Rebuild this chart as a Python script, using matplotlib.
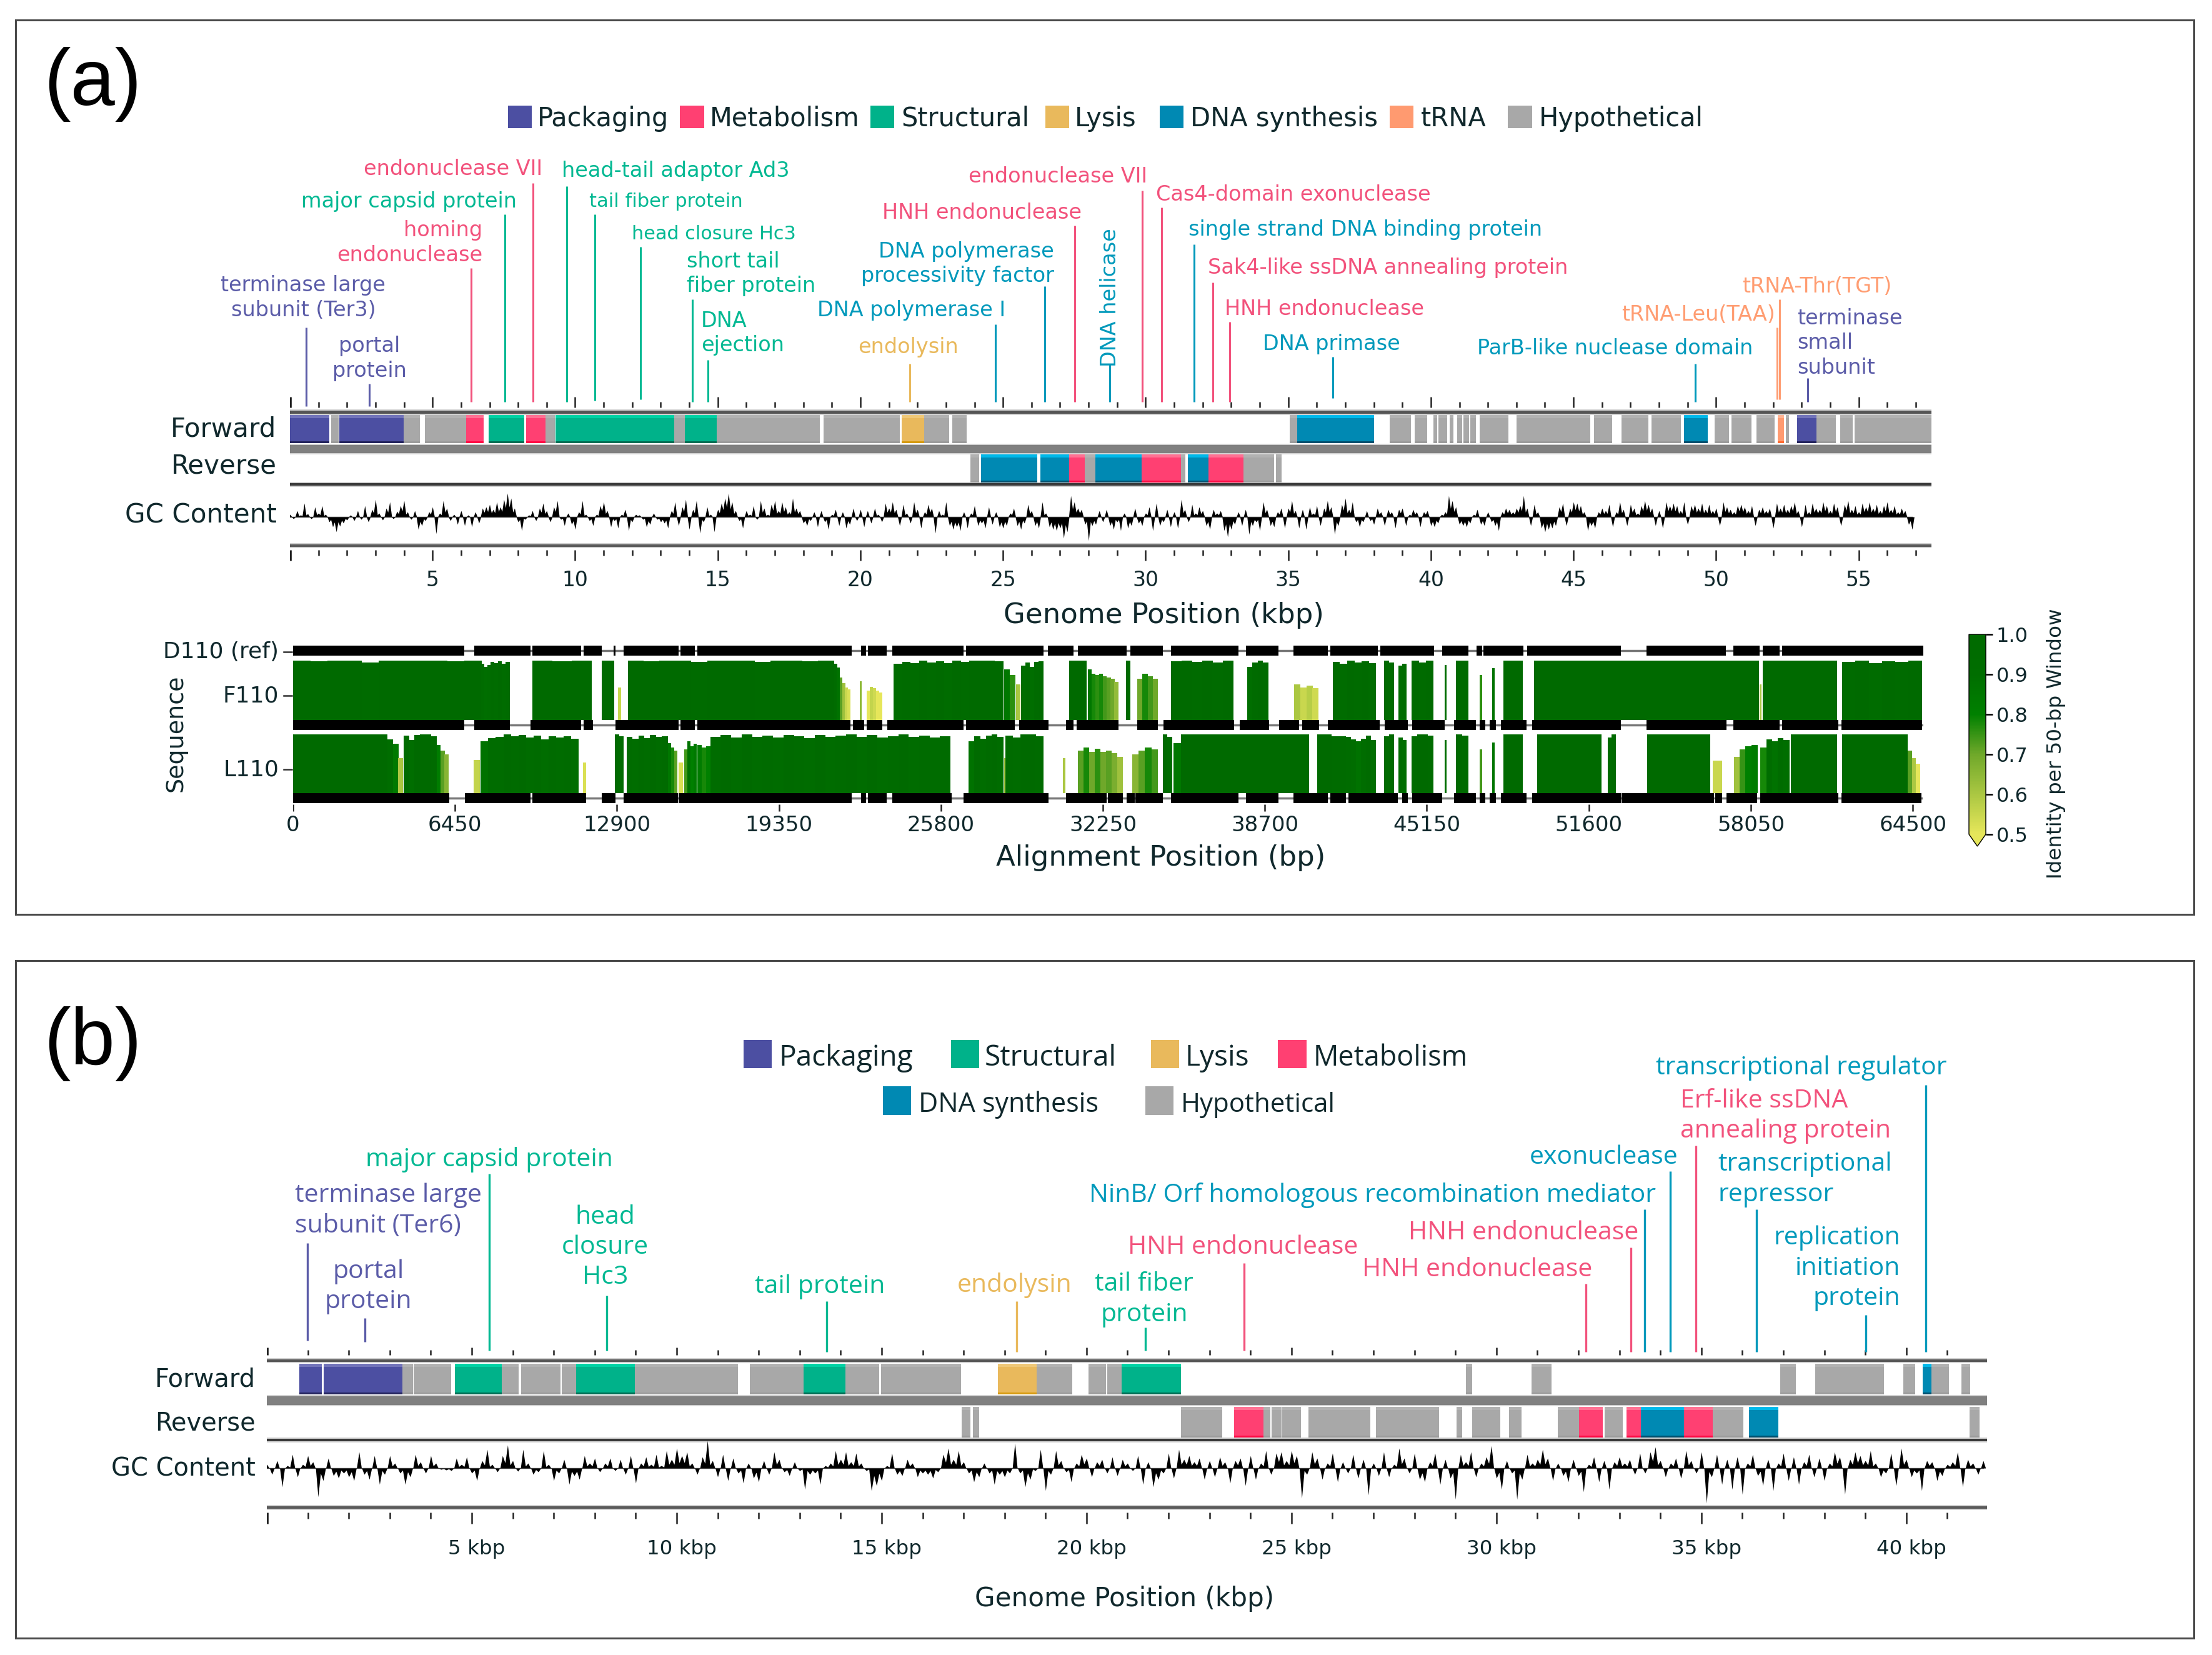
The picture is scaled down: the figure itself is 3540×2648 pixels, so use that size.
#!/usr/bin/env python3
"""
plot.py
Phage genome maps (a) and (b) with the identity tracks under map (a).
"""

import numpy as np
import matplotlib
matplotlib.use("Agg")
import matplotlib.pyplot as plt
from matplotlib.colors import LinearSegmentedColormap, Normalize
from matplotlib.cm import ScalarMappable
from matplotlib.patches import Rectangle


# -------------------------------------------------------------------
# COLOURS
# -------------------------------------------------------------------

FILL = {"pack": "#4c4fa2", "meta": "#ff4072", "stru": "#00b28a", "lysi": "#e9b95c",
        "dna": "#0089b3", "trna": "#ff9a70", "hypo": "#a8a8a8"}
TOP = {"pack": "#7274ba", "meta": "#ff7193", "stru": "#00d2a4", "lysi": "#efc878",
       "dna": "#00b9ea", "trna": "#ffb596", "hypo": "#b2b2b2"}
BOT = {"pack": "#24245e", "meta": "#ff0a45", "stru": "#006e54", "lysi": "#d69a10",
       "dna": "#00506f", "trna": "#ff6a30", "hypo": "#9c9c9c"}
TEXT = {"pack": "#5b5ca8", "meta": "#f2527c", "stru": "#00b892", "lysi": "#e9b95c",
        "dna": "#0099bb", "trna": "#ff9d72", "hypo": "#a8a8a8"}
DARK = "#10282c"


# -------------------------------------------------------------------
# DATA - GENES, PANEL A (kbp)
# -------------------------------------------------------------------

A_FWD_START = [0, 1.45, 1.74, 3.98, 4.74, 6.18, 6.96, 8.28, 8.97, 9.31, 13.48, 13.84, 14.97, 18.70, 21.45, 22.24, 23.23,
               35.06, 35.31, 38.56, 39.44, 40.10, 40.27, 40.67, 40.92, 41.14, 41.39, 41.71, 43.01, 43.30, 45.73,
               46.68, 47.73, 48.87, 49.94, 50.53, 51.42, 52.17, 52.44, 52.83, 53.51, 54.36, 54.85]
A_FWD_END = [1.38, 1.70, 3.98, 4.55, 6.18, 6.79, 8.22, 8.97, 9.29, 13.48, 13.84, 14.97, 18.57, 21.38, 22.24, 23.12, 23.73,
             35.31, 38.01, 39.31, 39.88, 40.22, 40.58, 40.80, 41.09, 41.33, 41.58, 42.71, 43.30, 45.58, 46.36,
             47.62, 48.77, 49.70, 50.45, 51.23, 52.06, 52.38, 52.55, 53.51, 54.19, 54.78, 57.54]
A_FWD_CAT = ["pack", "hypo", "pack", "hypo", "hypo", "meta", "stru", "meta", "hypo", "stru", "hypo", "stru", "hypo", "hypo", "lysi", "hypo", "hypo",
             "hypo", "dna", "hypo", "hypo", "hypo", "hypo", "hypo", "hypo", "hypo", "hypo", "hypo", "hypo", "hypo", "hypo",
             "hypo", "hypo", "dna", "hypo", "hypo", "hypo", "trna", "hypo", "pack", "hypo", "hypo", "hypo"]

A_REV_START = [23.86, 24.23, 26.31, 27.32, 27.86, 28.24, 29.85, 31.23, 31.49, 32.21, 33.42, 34.57]
A_REV_END = [24.17, 26.20, 27.32, 27.86, 28.24, 29.85, 31.23, 31.40, 32.21, 33.42, 34.51, 34.76]
A_REV_CAT = ["hypo", "dna", "dna", "meta", "hypo", "dna", "meta", "hypo", "dna", "meta", "hypo", "hypo"]

# -------------------------------------------------------------------
# DATA - GENES, PANEL B (kbp)
# -------------------------------------------------------------------

B_FWD_START = [0.79, 1.38, 3.31, 3.59, 4.59, 5.73, 6.20, 7.20, 7.54, 8.98, 11.79, 13.10, 14.11, 14.99, 17.84, 18.78, 20.04, 20.50, 20.85,
               29.26, 30.85, 36.93, 37.78, 38.12, 38.60, 39.02, 39.92, 40.40, 40.61, 41.35]
B_FWD_END = [1.34, 3.31, 3.56, 4.50, 5.73, 6.14, 7.16, 7.54, 8.98, 11.49, 13.10, 14.11, 14.94, 16.94, 18.78, 19.65, 20.47, 20.85, 22.31,
             29.41, 31.35, 37.31, 38.12, 38.60, 39.02, 39.46, 40.22, 40.61, 41.04, 41.56]
B_FWD_CAT = ["pack", "pack", "hypo", "hypo", "stru", "hypo", "hypo", "hypo", "stru", "hypo", "hypo", "stru", "hypo", "hypo", "lysi", "hypo", "hypo", "hypo", "stru",
             "hypo", "hypo", "hypo", "hypo", "hypo", "hypo", "hypo", "hypo", "dna", "hypo", "hypo"]

B_REV_START = [16.95, 17.23, 22.31, 22.77, 23.60, 24.32, 24.51, 24.77, 25.42, 27.06, 27.50, 28.07, 29.02, 29.41, 30.30,
               31.49, 31.73, 32.02, 32.64, 33.18, 33.53, 34.58, 35.28, 36.16, 41.54]
B_REV_END = [17.16, 17.38, 22.77, 23.31, 24.32, 24.49, 24.76, 25.23, 26.93, 27.50, 28.07, 28.60, 29.17, 30.09, 30.61,
             31.73, 32.02, 32.59, 33.08, 33.53, 34.58, 35.28, 36.02, 36.88, 41.78]
B_REV_CAT = ["hypo", "hypo", "hypo", "hypo", "meta", "hypo", "hypo", "hypo", "hypo", "hypo", "hypo", "hypo", "hypo", "hypo", "hypo",
             "hypo", "hypo", "meta", "hypo", "meta", "dna", "meta", "hypo", "dna", "hypo"]


# -------------------------------------------------------------------
# DATA - GC CONTENT (deviation, one block per 5 kbp)
# -------------------------------------------------------------------

GC_A = [
    [4, -3, 10, 3, 22, 5, -3, 16, 6, 18, 4, -8, -16, -24, -15, -10, -5, 3, -6, 10, -4, 18, -8, 12, 28, 6, -5, 14, 24, -3, 9, 18, 26, 8, -4, 10, -20, -14, -6, 8],
    [16, -27, 6, 26, 14, -6, 4, -12, 10, -14, 3, -16, 8, -10, 14, 16, 20, 12, 24, 16, 28, 38, 30, 14, -8, -22, -4, 3, 10, -6, 14, 22, 10, -8, 16, 26, -4, -14, 6, -12],
    [-20, 8, 26, 4, -6, -14, 4, 18, 24, 10, -16, -6, -18, 4, 12, -22, -8, 4, 3, -4, -16, -12, 6, -4, -8, -10, -18, 10, 24, -14, 16, 28, -20, 12, 26, -26, -8, 16, 4, -24],
    [12, 22, 30, 38, 24, 10, -6, -18, 10, 4, 18, -4, 26, 14, 4, 20, 26, 10, 24, 16, 8, 30, 14, 10, -10, -14, -6, 8, -16, 10, -8, -20, 4, 12, -14, 8, -18, -12, 14, -6],
    [12, -16, 10, -10, 14, 4, -8, 22, 14, 24, 12, -14, 20, 6, -10, 24, 12, -18, 8, 20, 14, -26, 10, 4, 24, -14, -20, -16, -22, 8, -18, 6, 18, -14, -10, -18, 16, -12, 8, -16],
    [-18, -14, 6, 14, -14, -20, -10, 20, 10, -14, -18, 24, 6, -16, -20, -22, -18, -34, -24, 34, 24, 14, 12, -12, -38, -14, -12, 10, -8, 12, -14, -20, -8, -22, 6, -18, -14, 14, -10, -14],
    [6, 16, -22, 22, -14, -8, 12, -16, 8, -18, 28, 12, -8, 20, 6, 16, 10, -14, -20, 12, 6, 10, -22, -32, -20, -12, 8, -14, 12, -28, -14, -8, -22, 24, 12, -14, -16, 8, 14, -18],
    [14, 26, 10, -18, 12, -20, 16, 6, 18, -14, 14, 26, 16, -28, -14, 20, 30, 12, 24, -8, -16, -8, 10, -6, -12, 14, 8, -14, 12, 8, -18, 12, 14, -14, 4, 12, 8, -16, 8, 10],
    [-14, -16, -10, 4, 8, 34, 26, 16, -12, -14, -16, -10, 4, 12, -12, -14, 8, -8, -14, -22, 8, 14, 12, 8, 14, 18, 34, 14, -14, 20, 8, -18, -24, -20, -18, -14, 16, 22, -14, 14],
    [24, 22, 18, 8, -22, -14, -18, 8, 14, 10, 20, -16, 8, 24, 12, -14, 20, 14, 6, 18, 26, 20, 14, -14, 10, -18, 24, 18, 22, 18, 10, 24, -12, 18, 20, 14, 22, 12, 20, 10],
    [14, -14, 24, 16, 12, 8, 18, 20, 16, 10, 18, -14, 12, 16, 10, 14, -18, 22, 14, 20, 12, 18, 24, 10, -16, 20, 8, 22, 14, 12, 24, 18, 10, 22, 16, -14, 20, 26, 12, 18],
    [8, 22, 16, 24, 14, 20, 10, 18, 24, 12, 18, 8, 14, 10, -12, -20],
]

GC_B = [
    [6, -10, 12, -30, 4, 22, -14, 6, 20, 10, -46, -20, 16, -12, -16, -8, -14, -20, 26, -10, -18, 20, -26, -10, 20, 8, -8, -26, -14, 22, 10, -8, 20, 8, -2, -3, -4, 16, 6, 18],
    [-8, -20, 12, 30, 6, -6, 20, 37, 12, -5, 30, 8, -10, -6, 28, 6, -20, -8, 14, -26, -12, -18, 20, 8, 16, -6, 8, 16, -4, 14, -10, 20, -24, 8, 18, 6, 22, 4, 28, 14],
    [32, 20, 26, 8, -10, 18, 44, 12, -14, 22, -20, 16, -8, -24, 8, -16, -22, 12, -10, 26, 14, -6, -12, 10, -4, -34, -10, -8, -26, 4, 8, 28, 14, 26, 10, 24, 8, -4, -36, -28],
    [-20, 4, 24, -10, -12, 14, 8, -14, -8, -10, -16, -6, 22, 32, 14, 28, 10, -8, -22, -14, 8, -8, -26, -10, -14, -8, 40, -8, -30, -18, -4, 30, -36, -10, 28, 12, -6, -22, 8, 22],
    [16, -14, 10, 14, -8, 18, -12, 14, 8, -4, 20, -26, 10, -30, -18, -8, 24, -16, 30, 14, 20, 10, 16, -18, 12, -14, 18, 10, -24, 12, 16, -28, 20, -18, 8, 28, -10, 24, 26, 12],
    [28, 20, -48, -10, 26, 16, -18, 8, 24, -22, 10, -8, 22, -16, 14, -43, 8, -12, 26, -14, 6, 32, 16, -8, 24, -18, -22, 10, 24, -26, 14, -16, -50, 22, 10, 26, -14, 8, 18, 36],
    [-16, -34, 12, -8, -50, -18, 22, 8, 14, 30, 16, -20, 8, -12, -22, 14, -12, -38, 6, 18, -22, 12, -34, 10, 18, 8, 14, -10, 24, -8, 26, 34, 12, -14, 8, 16, -16, 28, 12, -8],
    [26, -56, -14, 22, -26, 14, -34, 18, -42, 8, 22, -12, -28, 14, -36, 8, 24, -20, 18, -26, 10, 22, -14, 16, -20, 8, 26, 18, -42, 14, 26, 20, 12, 28, 8, -14, -8, 24, -28, 32],
    [14, -14, -8, -36, 12, 10, -20, -12, 6, 10, 26, -30, 14, 8, -10, 12],
]


# -------------------------------------------------------------------
# DATA - ALIGNMENT BLOCKS AND IDENTITY (bp)
# -------------------------------------------------------------------

D110_START = [0, 7211, 9520, 11567, 12757, 13161, 15422, 16089, 22610, 22896, 23871, 26799, 30059, 31259, 33342, 34968, 37940, 39845, 41318, 43299, 45763, 47134, 47414, 49141, 53891, 57345, 58514, 59301]
D110_END = [6807, 9449, 11472, 12281, 12828, 15351, 15994, 22253, 22824, 23633, 26704, 29893, 31082, 33190, 34638, 37660, 39235, 41216, 43197, 45433, 46804, 47363, 48989, 52875, 57066, 58412, 59199, 64914]

F110_START = [0, 7211, 9449, 11567, 12828, 15422, 16089, 22301, 22848, 23657, 26799, 28917, 30773, 31209, 33622, 34663, 37686, 39260, 40175, 41216, 43477, 44569, 46245, 47261, 47643, 48100, 49345, 53891, 57345, 59301, 61663]
F110_END = [6807, 8639, 11472, 11948, 15351, 15994, 22205, 22753, 23467, 26704, 28750, 30083, 31082, 32860, 34434, 37482, 38879, 40073, 40861, 43274, 44391, 45864, 47109, 47465, 47897, 49116, 52875, 57091, 59199, 61536, 64864]

L110_START = [0, 6831, 9520, 12281, 13161, 15351, 22610, 22896, 23871, 26704, 30773, 32453, 33190, 33545, 34968, 37940, 39845, 41318, 42029, 44163, 44569, 46245, 47261, 47643, 48100, 49345, 52900, 56634, 57091, 58437, 61663]
L110_END = [6212, 9449, 11662, 12828, 15327, 22253, 22824, 23633, 26228, 30083, 32402, 33037, 33520, 34638, 37660, 39235, 41216, 41927, 43985, 44391, 45763, 47109, 47465, 47897, 49116, 52875, 56583, 56913, 58310, 61536, 64838]

F110_ID_START = [0, 7497, 7860, 9520, 12281, 12950, 13330, 21540, 21777, 22560, 22848, 23919, 28322, 28800, 28988, 30904, 31641, 33164, 33622, 34968, 37990, 39870, 41394, 43452, 44010, 44544, 45864, 46296, 47261, 47744, 48201, 49421, 58400, 58514, 61688]
F110_ID_END = [7497, 7860, 8616, 11900, 12781, 13050, 21540, 21777, 22182, 22630, 23467, 28274, 28750, 28960, 29869, 31590, 32860, 33342, 34434, 37431, 38829, 40835, 43122, 43833, 44340, 45408, 45940, 46804, 47338, 47846, 48963, 58360, 58470, 61485, 64864]
F110_ID = [
    [1.0, 0.99, 1.0, 1.0, 0.97, 1.0, 1.0, 1.0, 1.0, 0.99, 1.0], [0.95, 0.9, 0.93], [0.98, 0.96, 0.99, 0.95, 0.98],
    [1.0, 0.99, 1.0], [1.0], [0.55], [1.0, 0.99, 1.0, 1.0, 0.98, 1.0, 1.0, 1.0, 0.98, 1.0, 1.0, 0.99, 1.0], [0.95, 0.88], [0.72, 0.62, 0.55, 0.52],
    [0.65], [0.5, 0.56, 0.54, 0.5, 0.46], [0.95, 0.98, 0.96, 1.0, 0.97, 0.99, 0.96, 1.0, 0.98, 1.0, 1.0, 1.0, 0.99], [0.85, 0.76], [0.6], [0.92, 0.97, 0.9, 0.98, 0.99],
    [1.0], [0.85, 0.78, 0.76, 0.78, 0.74, 0.72, 0.7, 0.64], [1.0], [0.7, 0.78, 0.74, 0.7], [0.99, 1.0, 0.98, 1.0, 0.97, 1.0],
    [0.9, 0.97, 1.0, 0.97], [0.6, 0.55, 0.58, 0.54], [0.98, 0.95, 1.0, 0.97, 0.99, 0.96], [1.0, 0.97], [0.92, 0.95],
    [1.0, 0.97, 1.0], [0.93], [1.0], [0.76], [0.87], [1.0], [1.0], [0.6], [1.0], [0.98, 1.0, 0.96, 0.99, 0.98, 1.0],
]

L110_ID_START = [0, 3760, 4190, 4403, 5712, 7188, 7473, 11543, 12804, 13280, 14923, 15351, 15589, 16089, 16612, 26894, 28322, 28369, 30650, 31259, 33418, 34638, 35070, 35349, 40784, 41927, 43452, 44010, 44544, 45864, 46296, 47261, 47744, 48201, 49548, 52342, 53916, 56532, 57371, 58437, 59656, 61688, 64306]
L110_ID_END = [3760, 4190, 4380, 5712, 6188, 7426, 11376, 11662, 13161, 14923, 15303, 15518, 16065, 16612, 26180, 28274, 28369, 29869, 30760, 33037, 34434, 34994, 35349, 40454, 41927, 43122, 43833, 44340, 45408, 45940, 46804, 47338, 47846, 48963, 52088, 52672, 56430, 56913, 58310, 59580, 61485, 64281, 64788]
L110_ID = [
    [1.0], [0.92, 0.84], [0.6], [0.98, 0.9, 0.99, 1.0, 1.0, 0.97], [0.82, 0.72, 0.66], [0.56],
    [0.88, 0.94, 0.96, 1.0, 0.97, 0.99, 0.95, 0.98, 0.92, 0.97, 0.95, 0.97, 0.93], [0.52], [1.0, 0.97], [0.96, 0.93, 0.98, 0.94, 0.99, 0.96, 0.97],
    [0.85, 0.78, 0.72], [0.52], [0.74, 0.88, 0.8, 0.84], [0.82, 0.78, 0.8], [0.96, 0.99, 0.95, 1.0, 0.96, 0.98, 0.95, 0.99, 0.97, 0.94, 0.99, 0.96, 0.98, 1.0, 0.96, 0.99, 0.95, 0.97, 1.0, 0.96, 0.98, 0.95, 0.97],
    [0.88, 0.97, 0.93, 0.98, 1.0, 0.96], [0.6], [0.98, 0.95, 1.0, 1.0, 0.97], [0.6], [0.72, 0.78, 0.7, 0.76, 0.7, 0.72, 0.68, 0.62], [0.66, 0.72, 0.78, 0.74], [1.0, 0.96],
    [0.85], [1.0], [1.0, 0.97], [0.96, 0.92, 0.88, 0.93, 0.98, 0.9], [0.97, 1.0], [0.95, 0.9], [0.97, 1.0, 1.0, 0.98], [0.9], [1.0, 0.98], [0.74], [0.86], [1.0],
    [1.0], [0.95, 1.0], [1.0], [0.55], [0.62, 0.75, 0.8, 0.82], [0.78, 0.92, 0.88, 0.94, 0.9], [1.0], [1.0], [0.72, 0.6, 0.5],
]

CBAR_TICKS = [0.5, 0.6, 0.7, 0.8, 0.9, 1.0]
ALN_TICKS = [0, 6450, 12900, 19350, 25800, 32250, 38700, 45150, 51600, 58050, 64500]


# -------------------------------------------------------------------
# DATA - ANNOTATIONS
# -------------------------------------------------------------------

A_ANN_TEXT = ["terminase large\nsubunit (Ter3)", "portal\nprotein", "homing\nendonuclease", "major capsid protein", "endonuclease VII",
              "head-tail adaptor Ad3", "tail fiber protein", "head closure Hc3", "short tail\nfiber protein", "DNA\nejection",
              "endolysin", "DNA polymerase I", "DNA polymerase\nprocessivity factor", "HNH endonuclease", "DNA helicase",
              "endonuclease VII", "Cas4-domain exonuclease", "single strand DNA binding protein", "Sak4-like ssDNA annealing protein",
              "HNH endonuclease", "DNA primase", "ParB-like nuclease domain", "tRNA-Leu(TAA)", "tRNA-Thr(TGT)", "terminase\nsmall\nsubunit"]
A_ANN_POS = [0.57, 2.79, 6.35, 7.54, 8.53, 9.71, 10.70, 12.28, 14.11, 14.66, 21.73, 24.74, 26.47, 27.51, 28.75,
             29.88, 30.57, 31.71, 32.35, 32.95, 36.56, 49.26, 52.13, 52.23, 53.22]
A_ANN_CAT = ["pack", "pack", "meta", "stru", "meta", "stru", "stru", "stru", "stru", "stru", "lysi", "dna", "dna", "meta", "dna",
             "meta", "meta", "dna", "meta", "meta", "dna", "dna", "trna", "trna", "pack"]

B_ANN_TEXT = ["terminase large\nsubunit (Ter6)", "portal\nprotein", "major capsid protein", "head\nclosure\nHc3", "tail protein", "endolysin",
              "tail fiber\nprotein", "HNH endonuclease", "HNH endonuclease", "HNH endonuclease", "NinB/ Orf homologous recombination mediator",
              "exonuclease", "Erf-like ssDNA\nannealing protein", "transcriptional\nrepressor", "replication\ninitiation\nprotein", "transcriptional regulator"]
B_ANN_POS = [0.99, 2.40, 5.43, 8.29, 13.66, 18.30, 21.44, 23.85, 32.18, 33.28, 33.62, 34.24, 34.86, 36.34, 39.02, 40.47]
B_ANN_CAT = ["pack", "pack", "stru", "stru", "stru", "lysi", "stru", "meta", "meta", "meta", "dna", "dna", "meta", "dna", "dna", "dna"]

LEGEND_A = ["Packaging", "Metabolism", "Structural", "Lysis", "DNA synthesis", "tRNA", "Hypothetical"]
LEGEND_A_CAT = ["pack", "meta", "stru", "lysi", "dna", "trna", "hypo"]
LEGEND_B = ["Packaging", "Structural", "Lysis", "Metabolism", "DNA synthesis", "Hypothetical"]
LEGEND_B_CAT = ["pack", "stru", "lysi", "meta", "dna", "hypo"]


# -------------------------------------------------------------------
# LAYOUT (preview coordinates, 1568 wide, scaled by S to pixels)
# -------------------------------------------------------------------

W, H = 3540, 2648
S = 3540 / 1568

A_TEXT_X = [215, 262, 342, 290, 321, 479, 472, 506, 487, 497, 644, 646, 747, 696, 787, 750, 917, 968, 984, 939, 944, 1145, 1204, 1288, 1274]
A_TEXT_Y = [210, 253, 171, 142, 119, 120, 142, 165, 193, 235, 245, 219, 186, 150, 210, 124, 137, 162, 189, 218, 243, 246, 222, 202, 242]
A_TEXT_HA = ["center", "center", "right", "center", "center", "center", "center", "center", "left", "left", "center", "center", "right",
             "center", "center", "center", "center", "center", "center", "center", "center", "center", "center", "center", "left"]
A_TEXT_FONT = [33.5, 33.5, 33.5, 33.5, 33.5, 33.5, 30.5, 30.2, 33.5, 33.5, 33.5, 33.5, 33.5,
               33.5, 33.5, 33.5, 33.5, 33.5, 33.5, 33.5, 33.5, 33.5, 33.5, 33.5, 33.5]
A_LINE_TOP = [232, 272, 190, 152, 130, 132, 152, 175, 212, 255, 258, 230, 203, 160, 258, 135, 147, 173, 200, 228, 253, 258, 232, 212, 268]
A_LINE_BOT = [288, 288, 285, 285, 285, 285, 284, 283, 285, 285, 285, 285, 285, 285, 285, 285, 285, 285, 285, 285, 282, 285, 283, 283, 285]

B_TEXT_X = [209, 261, 347, 429, 581, 719, 811, 881, 1047, 1080, 973, 1137, 1191, 1218, 1347, 1277]
B_TEXT_Y = [857, 911, 821, 883, 911, 910, 920, 883, 899, 873, 846, 819, 790, 835, 898, 756]
B_TEXT_HA = ["left", "center", "center", "center", "center", "center", "center", "center", "center", "center", "center", "center",
             "left", "left", "right", "center"]
B_LINE_TOP = [881, 934, 832, 918, 922, 922, 941, 895, 910, 884, 857, 830, 812, 857, 932, 769]
B_LINE_BOT = [950, 951, 957, 957, 958, 958, 957, 957, 958, 958, 958, 958, 958, 958, 958, 958]

LEG_A_BOX = [360, 482, 617, 741, 822, 985, 1069]
LEG_A_TXT = [381, 503, 639, 762, 844, 1007, 1091]
LEG_B_BOX = [527, 674, 816, 906, 626, 812]
LEG_B_TXT = [552, 698, 840, 931, 651, 837]
LEG_B_Y = [747, 747, 747, 747, 780, 780]
LEG_B_FONT = [46, 46, 46, 45, 43, 42]


# -------------------------------------------------------------------
# HELPER FUNCTIONS
# -------------------------------------------------------------------

def px_font(px):
    return px * 0.72


def add_full_axes(fig, left, right, xmax):
    # x in data units, y in image pixel rows
    ax = fig.add_axes([left / W, 0, (right - left) / W, 1])
    ax.set_xlim(0, xmax)
    ax.set_ylim(H, 0)
    ax.axis("off")
    ax.patch.set_alpha(0)
    return ax


def draw_genes(ax, start, end, cat, y0, y1):
    h = y1 - y0
    for s, e, c in zip(start, end, cat):
        ax.bar(s, h, e - s, bottom=y0, align="edge", color=FILL[c], linewidth=0)
        ax.bar(s, h * 0.11, e - s, bottom=y0, align="edge", color=TOP[c], linewidth=0)
        ax.bar(s, h * 0.07, e - s, bottom=y1 - h * 0.07, align="edge", color=BOT[c], linewidth=0)


def draw_band(ax, xmax, y0, y1, color, halo="#d2d2d2"):
    ax.bar(0, y1 - y0 + 4, xmax, bottom=y0 - 2, align="edge", color=halo, linewidth=0)
    ax.bar(0, y1 - y0, xmax, bottom=y0, align="edge", color=color, linewidth=0)


def draw_ticks(ax, last, top, major_len, minor_len, up=False):
    pos = np.arange(0, last + 1)
    for p in pos:
        length = major_len if p % 5 == 0 else minor_len
        lw = 3.4 if p == 0 else 1.8
        if up:
            ax.plot([p, p], [top - length, top], color="#222222", lw=lw, solid_capstyle="butt")
        else:
            ax.plot([p, p], [top, top + length], color="#222222", lw=lw, solid_capstyle="butt")


def draw_gc(ax, blocks, y0, half):
    # each value is one spike; runs of one sign stay joined above the baseline
    xs, ys = [], []
    for i, vals in enumerate(blocks):
        step = 5.0 / len(vals) if len(vals) >= 30 else 0.125
        xs.extend(i * 5 + np.arange(len(vals)) * step)
        ys.extend(vals)
    out_x, out_y = [], []
    for k, (x, v) in enumerate(zip(xs, ys)):
        prev_v = ys[k - 1] if k > 0 else 0
        next_v = ys[k + 1] if k < len(ys) - 1 else 0
        lo = np.sign(v) * 0.45 * min(abs(v), abs(prev_v)) if v * prev_v > 0 else 0.0
        hi = np.sign(v) * 0.45 * min(abs(v), abs(next_v)) if v * next_v > 0 else 0.0
        out_x.extend([x - half, x, x + half])
        out_y.extend([lo, v, hi])
    out_y = y0 - np.array(out_y, dtype=float)
    ax.fill_between(out_x, y0, out_y, color="black", linewidth=0)
    ax.plot([0, xs[-1]], [y0, y0], color="#333333", lw=1.0)


def draw_blocks(ax, start, end, y0, y1, xmax_line):
    mid = (y0 + y1) / 2
    ax.plot([0, xmax_line], [mid, mid], color="#777777", lw=2.5, zorder=0.5)
    spans = [(s, e - s) for s, e in zip(start, end)]
    ax.broken_barh(spans, (y0, y1 - y0), facecolors="black", linewidth=0, zorder=1)


def draw_identity(ax, start, end, ids, y_top, y_bot, cmap, norm):
    h = y_bot - y_top
    for s, e, vals in zip(start, end, ids):
        w = (e - s) / len(vals)
        for i, v in enumerate(vals):
            ax.bar(s + i * w, -h * v, w + 6, bottom=y_bot, align="edge",
                   color=cmap(norm(v)), linewidth=0)


def draw_label(ax, x, y, text, ha, color, font, **kw):
    ax.text(x, y, text, ha=ha, va="center", multialignment=ha, color=color, fontsize=px_font(font), **kw)


# -------------------------------------------------------------------
# MAIN LOGIC
# -------------------------------------------------------------------

def main():
    plt.rcParams["font.family"] = ["DejaVu Sans"]
    fig = plt.figure(figsize=(W / 100, H / 100), dpi=100, facecolor="white")

    over = fig.add_axes([0, 0, 1, 1], zorder=5)
    over.set_xlim(0, W)
    over.set_ylim(H, 0)
    over.axis("off")
    over.patch.set_alpha(0)

    # panel frames
    for x0, y0, x1, y1 in [(25, 32, 3511, 1463), (25, 1537, 3511, 2621)]:
        over.add_patch(Rectangle((x0, y0), x1 - x0, y1 - y0, fill=False, ec="#4a4a4a", lw=2.2))
    over.text(70, 135, "(a)", family="Liberation Sans", fontsize=px_font(128), ha="left", va="center", color="black")
    over.text(70, 1670, "(b)", family="Liberation Sans", fontsize=px_font(128), ha="left", va="center", color="black")

    # ---------------------------------------------------------------
    # PANEL A - GENOME MAP
    # ---------------------------------------------------------------
    ax_a = add_full_axes(fig, 464, 3091, 57.55)
    draw_ticks(ax_a, 57, 652, 17, 9, up=True)
    draw_band(ax_a, 57.55, 657, 662, "#555555")
    draw_band(ax_a, 57.55, 712, 725, "#808080")
    draw_band(ax_a, 57.55, 773, 777, "#3a3a3a")
    draw_band(ax_a, 57.55, 871, 875, "#5a5a5a")
    draw_genes(ax_a, A_FWD_START, A_FWD_END, A_FWD_CAT, 664, 709)
    draw_genes(ax_a, A_REV_START, A_REV_END, A_REV_CAT, 727, 772)
    draw_gc(ax_a, GC_A, 827, 0.07)
    draw_ticks(ax_a, 57, 880, 17, 9)
    for p, t0, t1, c in zip(A_ANN_POS, A_LINE_TOP, A_LINE_BOT, A_ANN_CAT):
        ax_a.plot([p, p], [t0 * S, t1 * S], color=TEXT[c], lw=2.2, solid_capstyle="butt")
    for p in range(5, 56, 5):
        ax_a.text(p, 928, str(p), ha="center", va="center", fontsize=px_font(33), color=DARK)

    for t, x, y, c, ha, f in zip(A_ANN_TEXT, A_TEXT_X, A_TEXT_Y, A_ANN_CAT, A_TEXT_HA, A_TEXT_FONT):
        rot = 90 if t == "DNA helicase" else 0
        draw_label(over, x * S, (y + 1) * S, t, ha, TEXT[c], f, rotation=rot, linespacing=1.25)

    for t, bx, tx, c in zip(LEGEND_A, LEG_A_BOX, LEG_A_TXT, LEGEND_A_CAT):
        over.add_patch(Rectangle((bx * S, 75 * S), 17 * S, 16 * S, fc=FILL[c], ec="none"))
        over.text(tx * S, 84 * S, t, ha="left", va="center", color=DARK, fontsize=px_font(41.5))

    for t, y in [("Forward", 304), ("Reverse", 330), ("GC Content", 365)]:
        over.text(196 * S, y * S, t, ha="right", va="center", color=DARK, fontsize=px_font(42))
    over.text(825 * S, 436 * S, "Genome Position (kbp)", ha="center", va="center", color=DARK, fontsize=px_font(45))

    # ---------------------------------------------------------------
    # PANEL A - ALIGNMENT
    # ---------------------------------------------------------------
    cmap = LinearSegmentedColormap.from_list(
        "identity", [(0.0, "#e6e65a"), (0.4, "#6fa82a"), (0.6, "#008000"), (0.8, "#006e00"), (1.0, "#006a00")])
    norm = Normalize(0.5, 1.0)

    ax_al = add_full_axes(fig, 469, 3078, 64920)
    draw_blocks(ax_al, D110_START, D110_END, 1033, 1049, 64914)
    draw_blocks(ax_al, F110_START, F110_END, 1152, 1168, 64864)
    draw_blocks(ax_al, L110_START, L110_END, 1269, 1285, 64838)
    draw_identity(ax_al, F110_ID_START, F110_ID_END, F110_ID, 1057, 1152, cmap, norm)
    draw_identity(ax_al, L110_ID_START, L110_ID_END, L110_ID, 1175, 1269, cmap, norm)
    for p in ALN_TICKS:
        ax_al.plot([p, p], [1287, 1298], color="#222222", lw=1.8, solid_capstyle="butt")
        over.text(469 + p * 0.04019, 1320, str(p), ha="center", va="center", color=DARK, fontsize=px_font(34))
    for name, y in [("D110 (ref)", 1043), ("F110", 1113), ("L110", 1231)]:
        over.plot([454, 467], [y, y], color="#333333", lw=1.8)
        over.text(446, y, name, ha="right", va="center", color=DARK, fontsize=px_font(36))
    over.text(282, 1173, "Sequence", rotation=90, ha="center", va="center", color=DARK, fontsize=px_font(38))
    over.text(823 * S, 608 * S, "Alignment Position (bp)", ha="center", va="center", color=DARK, fontsize=px_font(45))

    cax = fig.add_axes([3151 / W, 1 - 1354 / H, 27 / W, (1354 - 1015) / H])
    cb = fig.colorbar(ScalarMappable(norm=norm, cmap=cmap), cax=cax, extend="min", extendfrac=0.06)
    cb.set_ticks(CBAR_TICKS)
    cb.set_ticklabels([f"{v:.1f}" for v in CBAR_TICKS])
    cb.ax.tick_params(labelsize=px_font(32), length=8, width=1.8, labelcolor=DARK, pad=4)
    cb.outline.set_linewidth(1.0)
    over.text(3290, 1190, "Identity per 50-bp Window", rotation=90, ha="center", va="center",
              color=DARK, fontsize=px_font(32.5))

    # ---------------------------------------------------------------
    # PANEL B - GENOME MAP
    # ---------------------------------------------------------------
    ax_b = add_full_axes(fig, 427, 3180, 41.97)
    draw_ticks(ax_b, 41, 2168, 12, 8, up=True)
    draw_band(ax_b, 41.97, 2175, 2179, "#555555")
    draw_band(ax_b, 41.97, 2234, 2248, "#808080")
    draw_band(ax_b, 41.97, 2302, 2306, "#3a3a3a")
    draw_band(ax_b, 41.97, 2410, 2414, "#5a5a5a")
    draw_genes(ax_b, B_FWD_START, B_FWD_END, B_FWD_CAT, 2182, 2231)
    draw_genes(ax_b, B_REV_START, B_REV_END, B_REV_CAT, 2251, 2300)
    draw_gc(ax_b, GC_B, 2349, 0.06)
    draw_ticks(ax_b, 41, 2420, 18, 10)
    for p, t0, t1, c in zip(B_ANN_POS, B_LINE_TOP, B_LINE_BOT, B_ANN_CAT):
        ax_b.plot([p, p], [t0 * S, t1 * S], color=TEXT[c], lw=2.4, solid_capstyle="butt")
    for p in range(5, 41, 5):
        ax_b.text(p + 0.12, 2479, f"{p} kbp", ha="center", va="center", fontsize=px_font(32.5), color=DARK)

    for t, x, y, c, ha in zip(B_ANN_TEXT, B_TEXT_X, B_TEXT_Y, B_ANN_CAT, B_TEXT_HA):
        draw_label(over, x * S, (y + 1) * S, t, ha, TEXT[c], 41, family="Open Sans", linespacing=1.26)

    for t, bx, tx, y, c, f in zip(LEGEND_B, LEG_B_BOX, LEG_B_TXT, LEG_B_Y, LEGEND_B_CAT, LEG_B_FONT):
        over.add_patch(Rectangle((bx * S, (y - 10) * S), 20 * S, 20 * S, fc=FILL[c], ec="none"))
        over.text(tx * S, (y + 3) * S, t, ha="left", va="center", color=DARK, family="Open Sans", fontsize=px_font(f))

    for t, y in [("Forward", 978), ("Reverse", 1009), ("GC Content", 1041)]:
        over.text(181 * S, y * S, t, ha="right", va="center", color=DARK, fontsize=px_font(40))
    over.text(797 * S, 1133 * S, "Genome Position (kbp)", ha="center", va="center", color=DARK, fontsize=px_font(42))

    fig.savefig("out.png", dpi=100, facecolor="white")
    plt.close(fig)


if __name__ == "__main__":
    main()
